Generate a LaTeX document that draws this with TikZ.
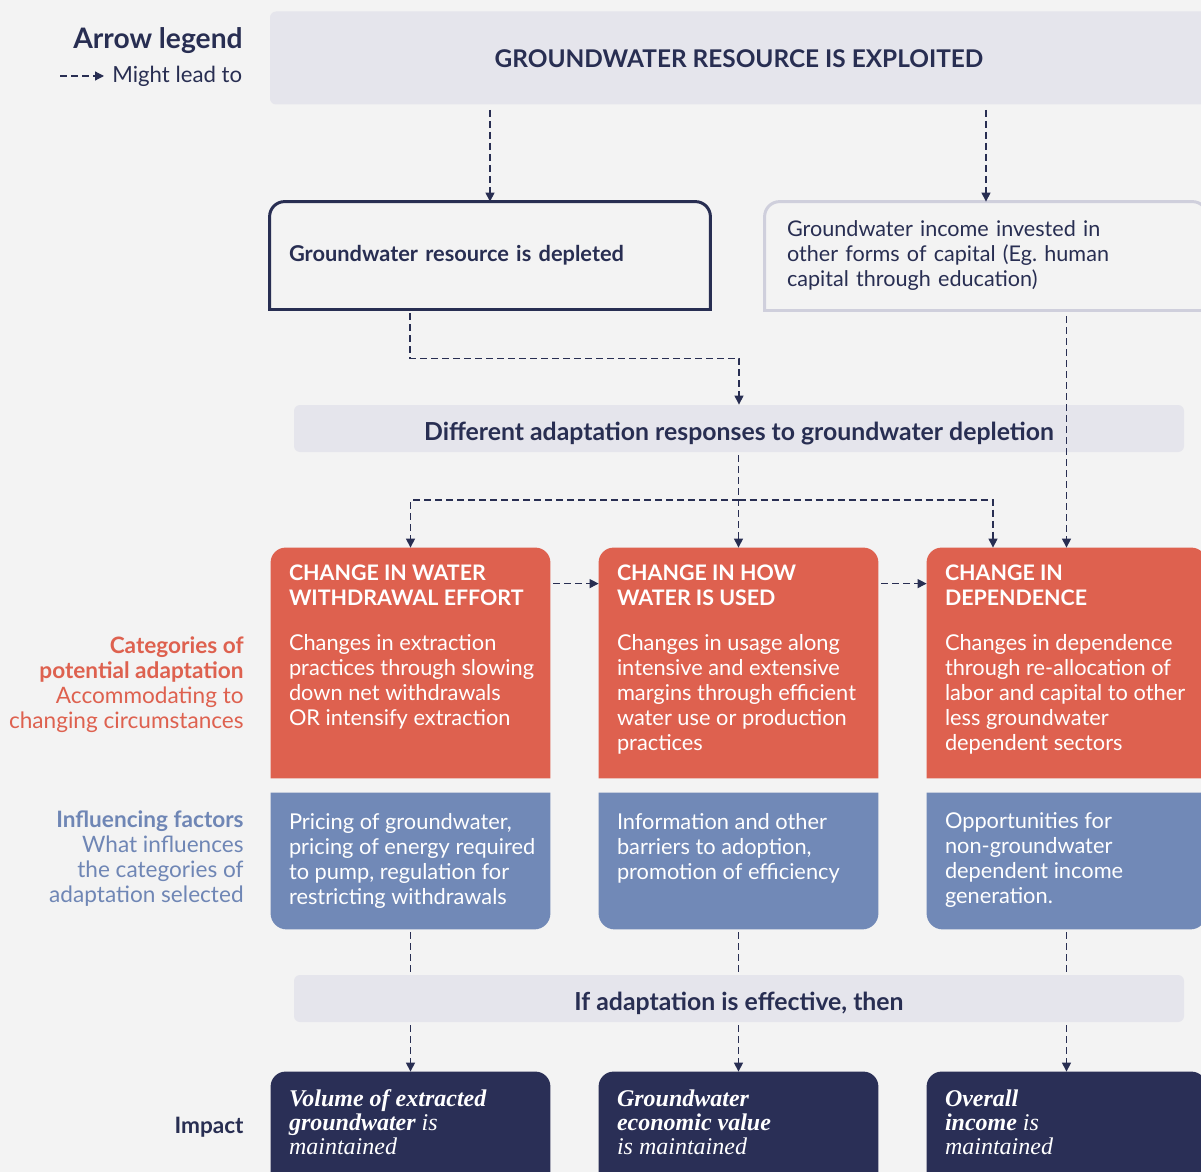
\documentclass[tikz,border=0pt]{standalone}
\usepackage{fontspec}
\setmainfont{Lato}
\newfontfamily\impactfont{Liberation Serif}
\usetikzlibrary{arrows.meta}

\definecolor{navy}{HTML}{282E52}
\definecolor{navyd}{HTML}{2A2F56}
\definecolor{redc}{HTML}{DE614F}
\definecolor{bluec}{HTML}{7189B7}
\definecolor{bluet}{HTML}{6F86B5}
\definecolor{bandc}{HTML}{E5E5EC}
\definecolor{edgec}{HTML}{CFCFDC}
\definecolor{bgc}{HTML}{F3F3F3}

\newcommand{\headfont}{\bfseries\fontsize{10.7}{13}\selectfont}

\tikzset{
  every node/.style={inner sep=0pt, font=\fontsize{10.9}{12.5}\selectfont},
  band/.style={rectangle, fill=bandc, rounded corners=3pt, minimum width=445pt, minimum height=23.5pt, text height=11.9pt, text depth=0pt, text=navy, font=\bfseries\fontsize{12.4}{14}\selectfont},
  boxtext/.style={anchor=north west, align=left, text=white},
  sidelabel/.style={anchor=north east, align=right, font=\fontsize{11.3}{12.5}\selectfont},
  flow/.style={draw=navy, line width=0.6pt, dash pattern=on 3.5pt off 2pt, -{Triangle[width=4.5pt,length=4.5pt]}},
  link/.style={draw=navy, line width=0.6pt, dash pattern=on 3.5pt off 2pt}
}
\newcommand{\redbox}{\node[rectangle,minimum width=139.5pt,minimum height=115pt]}
\newcommand{\bluebox}{\node[rectangle,minimum width=139.5pt,minimum height=68pt]}
\newcommand{\impbox}{\node[rectangle,minimum width=139.5pt,minimum height=59pt]}
\newcommand{\intext}{\node[boxtext]}

\begin{document}
\begin{tikzpicture}[x=0.5pt, y=-0.5pt]
\useasboundingbox (0,0) rectangle (1201,1172);
\fill[bgc] (0,0) rectangle (1201,1172);

%legend
\node[anchor=base east, text=navy, font=\bfseries\fontsize{14.1}{16}\selectfont] (legtitle) at (243,49) {Arrow legend};
\node[anchor=base west, text=navy, font=\fontsize{11.1}{12.5}\selectfont] (leglead) at (112,83) {Might lead to};
\coordinate (legstart) at (60,76);

%top part
\node[band, minimum width=469pt, minimum height=46.5pt, text height=9.8pt, font=\bfseries\fontsize{12.2}{14}\selectfont] (exploit) at (739,58) {GROUNDWATER RESOURCE IS EXPLOITED};
\node[rectangle, minimum width=220pt, minimum height=53.5pt, text width=201pt, inner xsep=9.5pt, align=left, text=navy, font=\bfseries\fontsize{10.9}{12.5}\selectfont] (dep) at (490,255.5) {Groundwater resource is depleted};
\node[rectangle, minimum width=221pt, minimum height=54pt, text width=199pt, inner xsep=11pt, align=left, text=navy, font=\fontsize{10.8}{12.5}\selectfont] (inv) at (986,256) {Groundwater income invested in\\other forms of capital (Eg.\ human\\capital through education)};
\draw[navy, line width=1.5pt, rounded corners=7.5pt] (dep.south west) -- (dep.north west) -- (dep.north east) -- (dep.south east);
\draw[navy, line width=1.5pt, line cap=rect] (dep.south west) -- (dep.south east);
\draw[edgec, line width=1.5pt, rounded corners=7.5pt] (inv.south west) -- (inv.north west) -- (inv.north east) -- (inv.south east);
\draw[edgec, line width=1.5pt, line cap=rect] (inv.south west) -- (inv.south east);

\node[band] (adapt) at (739,428.5) {Different adaptation responses to groundwater depletion};

%columns
\redbox (r1) at (410.5,663) {};
\redbox (r2) at (738.5,663) {};
\redbox (r3) at (1066.5,663) {};
\bluebox (b1) at (410.5,861) {};
\bluebox (b2) at (738.5,861) {};
\bluebox (b3) at (1066.5,861) {};
\impbox (imp1) at (410.5,1131) {};
\impbox (imp2) at (738.5,1131) {};
\impbox (imp3) at (1066.5,1131) {};

\foreach \n/\c in {r1/redc,r2/redc,r3/redc,imp1/navyd,imp2/navyd,imp3/navyd}
  \fill[\c, rounded corners=7.5pt] (\n.south west) -- (\n.north west) -- (\n.north east) -- (\n.south east);
\foreach \n in {b1,b2,b3}
  \fill[bluec, rounded corners=8pt] (\n.north west) -- (\n.south west) -- (\n.south east) -- (\n.north east);

\intext (r1t) at ([shift={(9pt,-8.5pt)}]r1.north west) {{\headfont CHANGE IN WATER}\\{\headfont WITHDRAWAL EFFORT}\\[10pt]Changes in extraction\\practices through slowing\\down net withdrawals\\OR intensify extraction};
\intext (r2t) at ([shift={(9pt,-8.5pt)}]r2.north west) {{\headfont CHANGE IN HOW}\\{\headfont WATER IS USED}\\[10pt]Changes in usage along\\intensive and extensive\\margins through efficient\\water use or production\\practices};
\intext (r3t) at ([shift={(9pt,-8.5pt)}]r3.north west) {{\headfont CHANGE IN}\\{\headfont DEPENDENCE}\\[10pt]Changes in dependence\\through re-allocation of\\labor and capital to other\\less groundwater\\dependent sectors};

\intext (b1t) at ([shift={(9pt,-10pt)}]b1.north west) {Pricing of groundwater,\\pricing of energy required\\to pump, regulation for\\restricting withdrawals};
\intext (b2t) at ([shift={(9pt,-10pt)}]b2.north west) {Information and other\\barriers to adoption,\\promotion of efficiency};
\intext (b3t) at ([shift={(9pt,-10pt)}]b3.north west) {Opportunities for\\non-groundwater\\dependent income\\generation.};

\node[band] (eff) at (739,998.5) {If adaptation is effective, then};

\intext[font=\impactfont\itshape\fontsize{12}{12}\selectfont] (imp1t) at ([shift={(9pt,-9pt)}]imp1.north west) {\textbf{Volume of extracted}\\\textbf{groundwater} is\\maintained};
\intext[font=\impactfont\itshape\fontsize{12}{12}\selectfont] (imp2t) at ([shift={(9pt,-9pt)}]imp2.north west) {\textbf{Groundwater}\\\textbf{economic value}\\is maintained};
\intext[font=\impactfont\itshape\fontsize{12}{12}\selectfont] (imp3t) at ([shift={(9pt,-9pt)}]imp3.north west) {\textbf{Overall}\\\textbf{income} is\\maintained};

%side labels
\node[sidelabel, text=redc] (catlab) at (244,636) {\textbf{Categories of}\\\textbf{potential adaptation}\\Accommodating to\\changing circumstances};
\node[sidelabel, text=bluet] (inflab) at (244,810) {\textbf{Influencing factors}\\What influences\\the categories of\\adaptation selected};
\node[anchor=base east, text=navy, font=\bfseries\fontsize{11.3}{12.5}\selectfont] (implab) at (244,1133) {Impact};

%arrows
\draw[flow] (legstart) -- ([xshift=-4pt]leglead.west |- legstart);
\draw[flow, shorten <=2.5pt] (exploit.south -| dep.north) -- (dep.north);
\draw[flow, shorten <=2.5pt] (exploit.south -| inv.north) -- (inv.north);
\draw[flow, shorten <=2pt] ([xshift=-40pt]dep.south) -- ++(0,49) -| (adapt.north);
\draw[flow, shorten <=3pt] (inv.south -| r3.north) -- (r3.north);
\draw[flow, shorten <=1.5pt] (adapt.south -| r2.north) -- (r2.north);
\coordinate (split) at (738.5,500);
\draw[flow] (split) -| (r1.north);
\draw[flow] (split) -| ([xshift=-36.75pt]r3.north);
\draw[flow, shorten <=1.5pt] ([yshift=-18pt]r1.north east) -- ([yshift=-18pt]r2.north west);
\draw[flow, shorten <=1.5pt] ([yshift=-18pt]r2.north east) -- ([yshift=-18pt]r3.north west);
\foreach \n in {1,2,3} {
  \draw[link, shorten <=1.5pt] (b\n.south) -- (b\n.south |- eff.north);
  \draw[flow, shorten <=1.5pt] (eff.south -| imp\n.north) -- (imp\n.north);
}
\end{tikzpicture}
\end{document}
